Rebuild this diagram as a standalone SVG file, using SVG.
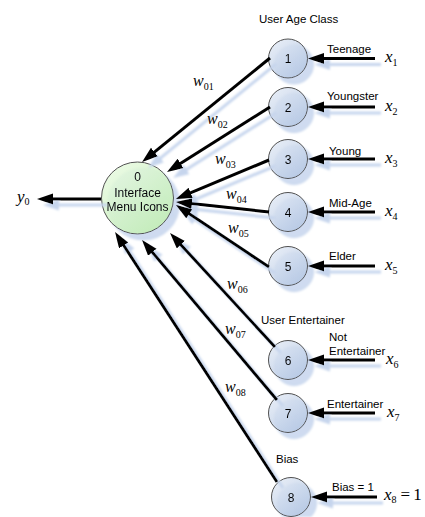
<svg xmlns="http://www.w3.org/2000/svg" width="425" height="517" viewBox="0 0 425 517">
<defs>
<style>
.n{stroke:#505050;stroke-width:1;fill:url(#gb);fill-opacity:0.85}
.c{stroke:#505050;stroke-width:1;fill:url(#gg);fill-opacity:0.85}
.nt{font-family:"Liberation Sans",Arial,sans-serif;font-size:12px;fill:#000;text-anchor:middle}
.lb{font-family:"Liberation Sans",Arial,sans-serif;font-size:11.5px;fill:#000}
.m{font-family:"Liberation Serif","Times New Roman",serif;font-style:italic;fill:#000}
.sb{font-style:normal;font-size:10px}
.e{stroke:#000;stroke-width:3;fill:none;marker-end:url(#ah)}
</style>
<linearGradient id="gb" x1="0" y1="0" x2="0.8" y2="1">
<stop offset="0" stop-color="#e8eef7"/><stop offset="1" stop-color="#b2c5e2"/>
</linearGradient>
<linearGradient id="gg" x1="0" y1="0" x2="0.8" y2="1">
<stop offset="0" stop-color="#ecfbe6"/><stop offset="1" stop-color="#c0eeae"/>
</linearGradient>
<marker id="ah" markerUnits="userSpaceOnUse" markerWidth="17" markerHeight="12" refX="10" refY="5.5" orient="auto">
<path d="M0,0 L16,5.5 L0,11 z" fill="#000"/>
</marker>
<filter id="sh" filterUnits="userSpaceOnUse" x="0" y="0" width="425" height="517">
<feOffset in="SourceAlpha" dx="6" dy="6" result="o"/>
<feGaussianBlur in="o" stdDeviation="0.8" result="b"/>
<feFlood flood-color="#c6d5ed"/>
<feComposite in2="b" operator="in" result="s"/>
<feMerge><feMergeNode in="s"/><feMergeNode in="SourceGraphic"/></feMerge>
</filter>
</defs>
<rect width="425" height="517" fill="#fff"/>

<g id="node0" filter="url(#sh)">
<circle class="c" cx="137.5" cy="198" r="36"/>
<text class="nt" x="137.5" y="181">0</text>
<text class="nt" x="137.5" y="196.5">Interface</text>
<text class="nt" x="137.5" y="210.5">Menu Icons</text>
</g>
<g id="node1" filter="url(#sh)"><circle class="n" cx="288" cy="58.5" r="19.5"/><text class="nt" x="288" y="63">1</text></g>
<g id="node2" filter="url(#sh)"><circle class="n" cx="288" cy="107" r="19.5"/><text class="nt" x="288" y="111.5">2</text></g>
<g id="node3" filter="url(#sh)"><circle class="n" cx="288" cy="159" r="19.5"/><text class="nt" x="288" y="163.5">3</text></g>
<g id="node4" filter="url(#sh)"><circle class="n" cx="288" cy="212" r="19.5"/><text class="nt" x="288" y="216.5">4</text></g>
<g id="node5" filter="url(#sh)"><circle class="n" cx="288" cy="266" r="19.5"/><text class="nt" x="288" y="270.5">5</text></g>
<g id="node6" filter="url(#sh)"><circle class="n" cx="288" cy="360" r="19.5"/><text class="nt" x="288" y="364.5">6</text></g>
<g id="node7" filter="url(#sh)"><circle class="n" cx="288" cy="413" r="19.5"/><text class="nt" x="288" y="417.5">7</text></g>
<g id="node8" filter="url(#sh)"><circle class="n" cx="291" cy="497" r="19.5"/><text class="nt" x="291" y="501.5">8</text></g>

<g id="connectors" filter="url(#sh)">
<line class="e" x1="270" y1="58" x2="146.7" y2="158.3"/>
<line class="e" x1="270" y1="107" x2="172.1" y2="168.8"/>
<line class="e" x1="269" y1="160" x2="181.5" y2="196.7"/>
<line class="e" x1="269" y1="212" x2="182" y2="202.6"/>
<line class="e" x1="269" y1="267" x2="181" y2="208.3"/>
<line class="e" x1="275" y1="347" x2="174.1" y2="237.4"/>
<line class="e" x1="277" y1="400" x2="145.9" y2="244.6"/>
<line class="e" x1="277" y1="482" x2="118.3" y2="237"/>
<line class="e" x1="375" y1="58.5" x2="314" y2="58.5"/>
<line class="e" x1="375" y1="107" x2="314" y2="107"/>
<line class="e" x1="375" y1="159" x2="314" y2="159"/>
<line class="e" x1="375" y1="212" x2="314" y2="212"/>
<line class="e" x1="375" y1="266" x2="314" y2="266"/>
<line class="e" x1="375" y1="360" x2="314" y2="360"/>
<line class="e" x1="375" y1="413" x2="314" y2="413"/>
<line class="e" x1="377" y1="497" x2="317" y2="497"/>
<line class="e" x1="101" y1="199" x2="43" y2="199"/>
</g>

<g id="labels">
<text class="lb" x="259" y="23">User Age Class</text>
<text class="lb" x="327" y="53">Teenage</text>
<text class="lb" x="327" y="100">Youngster</text>
<text class="lb" x="329" y="155">Young</text>
<text class="lb" x="329" y="207">Mid-Age</text>
<text class="lb" x="329" y="260">Elder</text>
<text class="lb" x="261" y="324">User Entertainer</text>
<text class="lb" x="329" y="341">Not</text>
<text class="lb" x="329" y="355">Entertainer</text>
<text class="lb" x="327" y="408">Entertainer</text>
<text class="lb" x="276" y="463">Bias</text>
<text class="lb" x="332" y="491">Bias = 1</text>

<text class="m" font-size="17" x="385" y="62">x<tspan class="sb" dy="4">1</tspan></text>
<text class="m" font-size="17" x="385" y="111">x<tspan class="sb" dy="4">2</tspan></text>
<text class="m" font-size="17" x="385" y="163">x<tspan class="sb" dy="4">3</tspan></text>
<text class="m" font-size="17" x="385" y="216">x<tspan class="sb" dy="4">4</tspan></text>
<text class="m" font-size="17" x="385" y="270">x<tspan class="sb" dy="4">5</tspan></text>
<text class="m" font-size="17" x="386" y="364">x<tspan class="sb" dy="4">6</tspan></text>
<text class="m" font-size="17" x="387" y="417">x<tspan class="sb" dy="4">7</tspan></text>
<text class="m" font-size="17" x="384" y="500">x<tspan class="sb" dy="3">8</tspan><tspan font-style="normal" dy="-3" dx="4">=</tspan><tspan font-style="normal" dx="3">1</tspan></text>
<text class="m" font-size="17" x="17" y="202">y<tspan class="sb" dy="3">0</tspan></text>

<text class="m" font-size="16" x="193" y="86">w<tspan class="sb" dy="4">01</tspan></text>
<text class="m" font-size="16" x="207" y="124">w<tspan class="sb" dy="4">02</tspan></text>
<text class="m" font-size="16" x="215" y="164">w<tspan class="sb" dy="4">03</tspan></text>
<text class="m" font-size="16" x="226" y="199">w<tspan class="sb" dy="4">04</tspan></text>
<text class="m" font-size="16" x="228" y="233">w<tspan class="sb" dy="4">05</tspan></text>
<text class="m" font-size="16" x="227" y="289">w<tspan class="sb" dy="4">06</tspan></text>
<text class="m" font-size="16" x="225" y="334">w<tspan class="sb" dy="4">07</tspan></text>
<text class="m" font-size="16" x="225" y="392">w<tspan class="sb" dy="4">08</tspan></text>
</g>
</svg>
